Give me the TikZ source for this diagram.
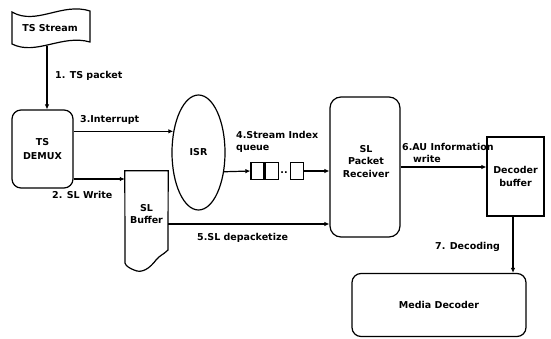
\documentclass[tikz,border=0pt]{standalone}
\usepackage{fontspec}
\setmainfont{DejaVu Sans}
\usetikzlibrary{shapes.geometric,arrows.meta}
\begin{document}
\begin{tikzpicture}[x=1pt,y=-1pt,
 every node/.style={font=\bfseries\fontsize{9.5}{12.5}\selectfont, align=center, inner sep=0pt},
 box/.style={draw, line width=1.2pt},
 rbox/.style={box, rounded corners=9pt},
 arr/.style={line width=1.2pt, -{Latex[length=5pt,width=4.5pt]}},
 lbl/.style={anchor=west}]
\useasboundingbox (0,0) rectangle (551,339);

% TS Stream flag
\draw[box, fill=white] (12,12) .. controls (36,26) and (62,2) .. (90,11) -- (90,42)
  .. controls (62,34) and (36,56) .. (12,44) -- cycle;
\node (tss) at (50,28) {TS Stream};
\coordinate (tssb) at (47,46);

% boxes
\node[rbox, minimum width=61pt, minimum height=78pt] (demux) at (42.5,149) {TS\\[1.5pt]DEMUX};
\node[box, ellipse, minimum width=53pt, minimum height=115pt] (isr) at (198.5,152.5) {ISR};
\node[minimum width=43pt, minimum height=99pt] (slbuf) at (146.5,220.5) {};
\draw[box] (slbuf.north west) -- (slbuf.north east) -- (168,250)
  .. controls (163,255) and (160,255) .. (156,260)
  .. controls (150,268) and (142,274) .. (134,270)
  .. controls (129,268) and (126,266) .. (125,263) -- cycle;
\node at (146.5,214) {SL\\Buffer};

\node[box, minimum width=13pt, minimum height=17pt] (q1) at (257.5,171) {};
\node[box, minimum width=13pt, minimum height=17pt, anchor=west] (q2) at (q1.east) {};
\node at (284,173) {..};
\node[box, minimum width=13pt, minimum height=17pt] (q3) at (297,171) {};

\node[rbox, rounded corners=11pt, minimum width=70pt, minimum height=140pt] (slpr) at (365,167) {};
\node at (366,161.5) {SL\\Packet\\Receiver};

\node[box, minimum width=57pt, minimum height=79pt] (decbuf) at (515.5,176.5) {Decoder\\buffer};
\node[rbox, minimum width=174pt, minimum height=63pt] (media) at (439,305) {Media Decoder};

% connectors
\draw[arr] (tssb) -- (tssb |- demux.north);
\draw[arr] (demux.east |- isr.140) -- (isr.140);
\draw[arr] (demux.east |- 0,179) -- (slbuf.west |- 0,179);
\draw[arr] (isr.-37) -- (q1.west);
\draw[arr] (q3.east) -- (q3.east -| slpr.west);
\draw[arr] (slbuf.east |- 0,224) -- (slpr.west |- 0,224);
\draw[arr] (slpr.east) -- (slpr.east -| decbuf.west);
\coordinate (decb) at (513,216);
\draw[arr] (decb) -- (decb |- media.north);

% labels
\node[lbl] (l1) at (55,76) {1. TS packet};
\node[lbl] (l3) at (80,120) {3.Interrupt};
\node[lbl] (l2) at (52,195) {2. SL Write};
\node[anchor=north west, align=left] (l4) at (236,131) {4.Stream Index\\queue};
\node[lbl] (l5) at (197,238) {5.SL depacketize};
\node[lbl] (l6a) at (402,147) {6.AU Information};
\node[lbl] (l6b) at (413,159) {write};
\node[lbl] (l7) at (435,247) {7. Decoding};
\end{tikzpicture}
\end{document}
